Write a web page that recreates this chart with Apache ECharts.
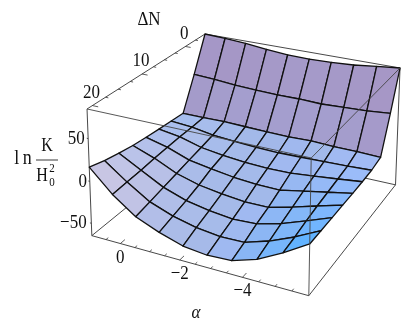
<!DOCTYPE html>
<html><head><meta charset="utf-8">
<style>html,body{margin:0;padding:0;background:#fff}#c{width:401px;height:333px}</style>
<script src="https://cdn.jsdelivr.net/npm/echarts@6/dist/echarts.min.js"></script>
</head><body><div id="c"></div>
<script>
// ---- data ----
const alphaValues = [1, 0.2222, -0.5556, -1.3333, -2.1111, -2.8889, -3.6667, -4.4444, -5.2222, -6];
const deltaNValues = [-5, -2.11, 0.78, 3.67, 6.56, 9.44, 12.33, 15.22, 18.11, 21];
const z0 = [84, 83, 81, 78, 75.5, 75.2, 76, 77.6, 81, 84];
const z1 = [40, 38.7, 36.3, 35.1, 34.1, 34.4, 33.5, 34.8, 35.9, 38.7];
const z2 = [-1, -1, -0.6, -1.4, -2, -2.7, -1.8, -3, -3, -3.8];
const z3 = [0.3, -1.8, -6.1, -8.4, -9.9, -10.5, -9.9, -9.1, -8.2, -6.9];
const z4 = [1.6, -2.4, -9.9, -13.6, -16.3, -17.3, -16.9, -13.9, -10.9, -7.6];
const z5 = [3.1, -3.5, -13.3, -18, -21.8, -24, -24.2, -18.8, -13.4, -7.9];
const z6 = [5, -4.7, -17, -24.6, -28.8, -31.5, -31.3, -24, -15.8, -7.9];
const z7 = [8, -6.6, -20.7, -30, -35.2, -38.2, -36.7, -29.2, -18.8, -7.9];
const z8 = [11.7, -7.6, -24.5, -34.5, -40.9, -44.3, -43.5, -34.5, -22.5, -7.9];
const z9 = [16.7, -8.7, -27.9, -39.1, -47.6, -50.7, -49.2, -40, -25.1, -7.8];
const zRows = [z0, z1, z2, z3, z4, z5, z6, z7, z8, z9];
const alphaTicks = [0, -2, -4];
const alphaMinorTicks = [0.5, -0.5, -1, -1.5, -2.5, -3, -3.5, -4.5, -5, -5.5];
const deltaNTicks = [0, 10, 20];
const deltaNMinorTicks = [-2.5, 2.5, 5, 7.5, 12.5, 15, 17.5];
const zTicks = [50, 0, -50];
const aHi = 1, aLo = -6, nLo = -5, nHi = 21, zLo = -65, zHi = 84;

// ---- view: perspective camera of the 3D box ----
function norm(a, n, z) { return [(aHi - a) / (aHi - aLo), (n - nLo) / (nHi - nLo), (z - zLo) / (zHi - zLo)]; }
function project(a, n, z) {
  const [u, v, w] = norm(a, n, z), t = w - 1;
  const d = 1 - 0.0791 * u - 0.1613 * v - 0.027 * t;
  return [(205 + 163.4 * u - 132 * v - 6.5 * t) / d, (34 + 28.6 * u + 57.4 * v - 112.6 * t) / d];
}
// facet colour from its slopes along the two ground axes (the reference's lighting)
function shade(i, j) {
  const w = (a, b) => (zRows[b][a] - zLo) / (zHi - zLo);
  const du = (w(i+1,j) - w(i,j) + w(i+1,j+1) - w(i,j+1)) / 2;
  const dv = (w(i,j+1) - w(i,j) + w(i+1,j+1) - w(i+1,j)) / 2;
  const k = Math.max(0, 1 - Math.abs(dv) / 0.1);
  const clamp = x => Math.max(0, Math.min(255, Math.round(x)));
  const base = 155 + 10 * k;
  const R = base + k * (du < 0 ? -280 * du : -680 * du) - 35 * dv - 180 * Math.max(0, dv) * (du > -0.03 ? 1 : 0);
  const G = 190 + k * (du < 0 ? -60 * du : -100 * du) + 130 * Math.min(0, dv) + 40 * k * Math.abs(dv);
  const B = 240 + 90 * k * du + 140 * Math.min(0, dv) + 20 * k * Math.abs(dv) + 10 * (du > 0 ? k : 0);
  return `rgb(${clamp(R)},${clamp(G)},${clamp(B)})`;
}

const facets = [];
for (let j = 0; j < deltaNValues.length - 1; j++)
  for (let i = 0; i < alphaValues.length - 1; i++) facets.push([i, j]);

const backEdges = [
  [aHi,nHi,zLo, aHi,nHi,zHi], [aHi,nHi,zHi, aHi,nLo,zHi], [aHi,nLo,zHi, aLo,nLo,zHi],
  [aLo,nLo,zHi, aLo,nLo,zLo], [aLo,nLo,zLo, aLo,nHi,zLo], [aLo,nHi,zLo, aHi,nHi,zLo],
  [aHi,nHi,zLo, aHi,nLo,zLo], [aHi,nLo,zLo, aLo,nLo,zLo], [aHi,nLo,zLo, aHi,nLo,zHi]
];
const frontEdges = [
  [aHi,nHi,zHi, aLo,nHi,zHi], [aLo,nHi,zHi, aLo,nLo,zHi], [aLo,nHi,zHi, aLo,nHi,zLo]
];
const tickSegs = [];
alphaTicks.forEach(a => tickSegs.push([a,nHi,zLo, a,nHi-0.9,zLo]));
alphaMinorTicks.forEach(a => tickSegs.push([a,nHi,zLo, a,nHi-0.45,zLo]));
deltaNTicks.forEach(n => tickSegs.push([aHi,n,zHi, aHi-0.2,n,zHi]));
deltaNMinorTicks.forEach(n => tickSegs.push([aHi,n,zHi, aHi-0.1,n,zHi]));
zTicks.forEach(z => tickSegs.push([aHi,nHi,z, aHi+0.05,nHi,z]));

const serif = '"Liberation Serif"';
function labels() {
  const out = [];
  alphaTicks.forEach(a => { const p = project(a,nHi,zLo); out.push([p[0], p[1] + 14, String(a).replace('-', '\u2212'), 17]); });
  deltaNTicks.forEach(n => { const p = project(aHi,n,zHi); out.push([p[0] - 1, p[1] - 13, String(n), 17]); });
  zTicks.forEach(z => { const p = project(aHi,nHi,z); out.push([p[0] - (z<0?18:z?12:7), p[1], String(z).replace('-', '\u2212'), 17]); });
  return out;
}
const freeTexts = [
  [149, 20, '\u0394N', 17, serif, 'normal'],
  [196, 313, '\u03b1', 17, serif, 'italic'],
  [23, 159, 'l\u2009n', 18, serif, 'normal'],
  [47, 146, 'K', 16, serif, 'normal'],
  [42, 176, 'H', 16, serif, 'normal'],
  [52, 169, '2', 11, serif, 'normal'],
  [52, 183, '0', 11, serif, 'normal']
];
const segItem = (api, stroke, lw) => {
  const s = [api.value(0),api.value(1),api.value(2)], e = [api.value(3),api.value(4),api.value(5)];
  const P = api.coord(project(...s)), Q = api.coord(project(...e));
  return { type:'line', shape:{x1:P[0],y1:P[1],x2:Q[0],y2:Q[1]}, style:{stroke, lineWidth:lw} };
};
const textItem = (x, y, text, size, font, fontStyle, api) => {
  const P = api.coord([x, y]);
  return { type:'text', x:P[0], y:P[1], scaleY:1.15, style:{ text, fill:'#111', align:'center', verticalAlign:'middle',
    font:`${fontStyle||'normal'} ${size}px ${font||serif}` } };
};

const chart = echarts.init(document.getElementById('c'), null, {renderer:'canvas'});
chart.setOption({
  animation:false, backgroundColor:'#fff',
  grid:{left:0,right:0,top:0,bottom:0},
  xAxis:{type:'value',min:0,max:401,show:false},
  yAxis:{type:'value',min:0,max:333,inverse:true,show:false},
  series:[
    { type:'custom', coordinateSystem:'cartesian2d', z:1, silent:true, data:backEdges, encode:{x:0,y:1},
      renderItem:(p,api)=>segItem(api,'#333',0.9) },
    { type:'custom', coordinateSystem:'cartesian2d', z:1, silent:true, data:tickSegs, encode:{x:0,y:1},
      renderItem:(p,api)=>segItem(api,'#333',0.8) },
    { type:'custom', coordinateSystem:'cartesian2d', z:2, silent:true, data:facets, encode:{x:0,y:1},
      renderItem:(p,api)=>{
        const i=api.value(0), j=api.value(1);
        const at=(a,b)=>[alphaValues[a],deltaNValues[b],zRows[b][a]];
        const c=[at(i,j),at(i+1,j),at(i+1,j+1),at(i,j+1)];
        return { type:'polygon', shape:{points:c.map(q=>api.coord(project(...q)))},
          style:{fill:shade(i,j),stroke:'#111',lineWidth:1.3,lineJoin:'round'} };
      } },
    { type:'custom', coordinateSystem:'cartesian2d', z:3, silent:true, data:frontEdges, encode:{x:0,y:1},
      renderItem:(p,api)=>segItem(api,'#444',0.9) },
    { type:'custom', coordinateSystem:'cartesian2d', z:4, silent:true, data:labels(), encode:{x:0,y:1},
      renderItem:(p,api)=>{ const t=labels()[p.dataIndex]; return textItem(t[0],t[1],t[2],t[3],null,null,api); } },
    { type:'custom', coordinateSystem:'cartesian2d', z:4, silent:true, data:freeTexts.map(t=>[t[0],t[1]]), encode:{x:0,y:1},
      renderItem:(p,api)=>{ const t=freeTexts[p.dataIndex]; return textItem(t[0],t[1],t[2],t[3],t[4],t[5],api); } },
    { type:'line', silent:true, symbol:'none', z:4, data:[[36,160],[58,160]], lineStyle:{color:'#222',width:0.9} }
  ]
});
</script></body></html>
